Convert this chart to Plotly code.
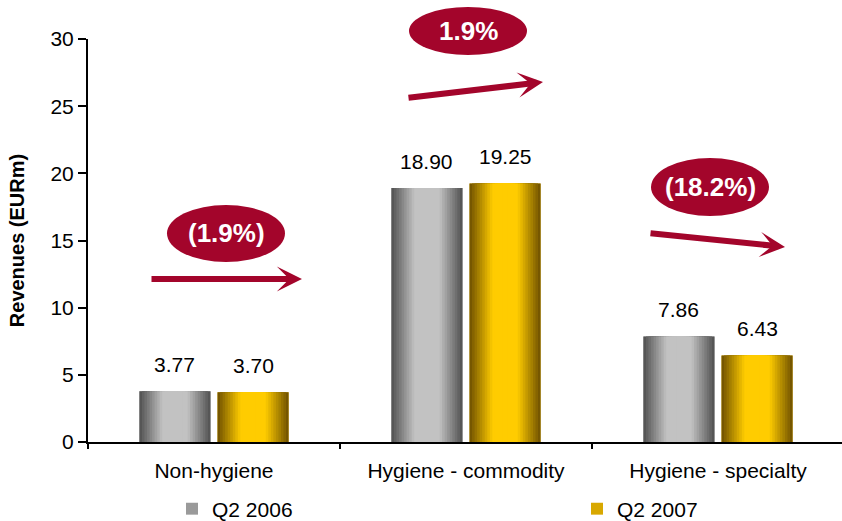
import plotly.graph_objects as go

# ---------------- data ----------------
categories = ["Non-hygiene", "Hygiene - commodity", "Hygiene - specialty"]
series_names = ["Q2 2006", "Q2 2007"]
q2_2006 = [3.77, 18.90, 7.86]
q2_2007 = [3.70, 19.25, 6.43]
change_labels = ["(1.9%)", "1.9%", "(18.2%)"]
y_ticks = [0, 5, 10, 15, 20, 25, 30]

# ---------------- layout constants ----------------
W, H = 842, 521
ML, MR, MT, MB = 88, 0, 39, 79
PW, PH = W - ML - MR, H - MT - MB
CAT_PX = 252.0
X_RANGE = [-0.5, -0.5 + PW / CAT_PX]
FONT = "Liberation Sans, Arial, sans-serif"
RED = "#a3052b"

BAR_W = 0.282
CENTER_OFF = [-0.155, 0.155]
EDGE = [(0x56, 0x56, 0x56), (0x76, 0x57, 0x00)]
MID = [(0xc2, 0xc2, 0xc2), (0xff, 0xcc, 0x00)]
LEGEND_COL = ["#9a9a9a", "#d8a800"]
N_LAYERS = 14
LEGEND_IDS = ["legend", "legend2"]
LEGEND_LEFT_PX = [172, 577]


def lerp(a, b, t):
    return "rgb(%d,%d,%d)" % tuple(round(a[i] + (b[i] - a[i]) * t) for i in range(3))


def px2paper(px, py):
    return (px - ML) / PW, (H - MB - py) / PH


fig = go.Figure()

for s, vals in enumerate([q2_2006, q2_2007]):
    # legend carrier: full bar, fully covered by the gradient layers drawn above it
    fig.add_trace(go.Bar(
        x=categories, y=vals, width=[BAR_W] * len(vals),
        offset=[CENTER_OFF[s] - BAR_W / 2] * len(vals),
        marker=dict(color=LEGEND_COL[s], line=dict(width=0)),
        name=series_names[s], showlegend=True, legend=LEGEND_IDS[s],
        hoverinfo="skip",
    ))
    for k in range(N_LAYERS):
        t = k / (N_LAYERS - 1)
        frac = 1 - k / N_LAYERS
        w = BAR_W * frac
        col = lerp(EDGE[s], MID[s], min(1.0, t * 1.5))
        fig.add_trace(go.Bar(
            x=categories, y=vals, width=[w] * len(vals),
            offset=[CENTER_OFF[s] - w / 2] * len(vals),
            marker=dict(color=col, line=dict(width=0)),
            name=series_names[s], showlegend=False, hoverinfo="skip",
        ))

annotations = []
# value labels
for s, vals in enumerate([q2_2006, q2_2007]):
    for i, v in enumerate(vals):
        annotations.append(dict(
            x=i + CENTER_OFF[s], y=v, xref="x", yref="y",
            text="%.2f" % v, showarrow=False, yanchor="middle", yshift=27,
            font=dict(family=FONT, size=21, color="black"),
        ))

# arrows (tail px, tip px)
arrows = [((150, 279), (302, 279)), ((407, 98), (543, 82)), ((649, 233), (785, 247))]
for (tx, ty), (hx, hy) in arrows:
    x, y = px2paper(hx, hy)
    annotations.append(dict(
        x=x, y=y, xref="paper", yref="paper", ax=tx - hx, ay=ty - hy,
        axref="pixel", ayref="pixel", text="", showarrow=True,
        arrowhead=3, arrowsize=0.7, arrowwidth=6, arrowcolor=RED,
    ))

# ellipses with change labels
ellipses = [(167, 205, 285, 262), (409, 7, 527, 55), (651, 158, 769, 216)]
shapes = []
for (x0, y0, x1, y1), lab in zip(ellipses, change_labels):
    px0, py1 = px2paper(x0, y0)
    px1, py0 = px2paper(x1, y1)
    shapes.append(dict(type="circle", xref="paper", yref="paper",
                       x0=px0, x1=px1, y0=py0, y1=py1,
                       fillcolor=RED, line=dict(width=0), layer="above"))
    cx, cy = px2paper((x0 + x1) / 2, (y0 + y1) / 2)
    annotations.append(dict(
        x=cx, y=cy, xref="paper", yref="paper", text="<b>%s</b>" % lab,
        showarrow=False, font=dict(family=FONT, size=26, color="white"),
        xanchor="center", yanchor="middle",
    ))

legend_common = dict(
    orientation="h", xref="container", yref="container",
    xanchor="left", yanchor="middle", y=1 - 509 / H,
    font=dict(family=FONT, size=21, color="black"),
    bgcolor="rgba(0,0,0,0)",
)

fig.update_layout(
    width=W, height=H, autosize=False,
    margin=dict(l=ML, r=MR, t=MT, b=MB, pad=0),
    paper_bgcolor="white", plot_bgcolor="white",
    barmode="overlay",
    font=dict(family=FONT, size=21, color="black"),
    xaxis=dict(
        range=X_RANGE, showgrid=False, zeroline=False,
        showline=True, linecolor="black", linewidth=2,
        ticks="outside", tickson="boundaries", ticklen=5, tickwidth=2, tickcolor="black",
        ticklabelstandoff=9,
        tickfont=dict(family=FONT, size=21, color="black"),
        fixedrange=True,
    ),
    yaxis=dict(
        range=[0, 30], tickvals=y_ticks, showgrid=False, zeroline=False,
        showline=True, linecolor="black", linewidth=2,
        ticks="outside", ticklen=8, tickwidth=2, tickcolor="black",
        tickfont=dict(family=FONT, size=21, color="black"),
        title=dict(text="<b>Revenues (EURm)</b>", standoff=20,
                   font=dict(family=FONT, size=20, color="black")),
        fixedrange=True,
    ),
    legend=dict(x=LEGEND_LEFT_PX[0] / W, **legend_common),
    legend2=dict(x=LEGEND_LEFT_PX[1] / W, **legend_common),
    shapes=shapes,
    annotations=annotations,
    showlegend=True,
)

fig.write_html("out.html")
